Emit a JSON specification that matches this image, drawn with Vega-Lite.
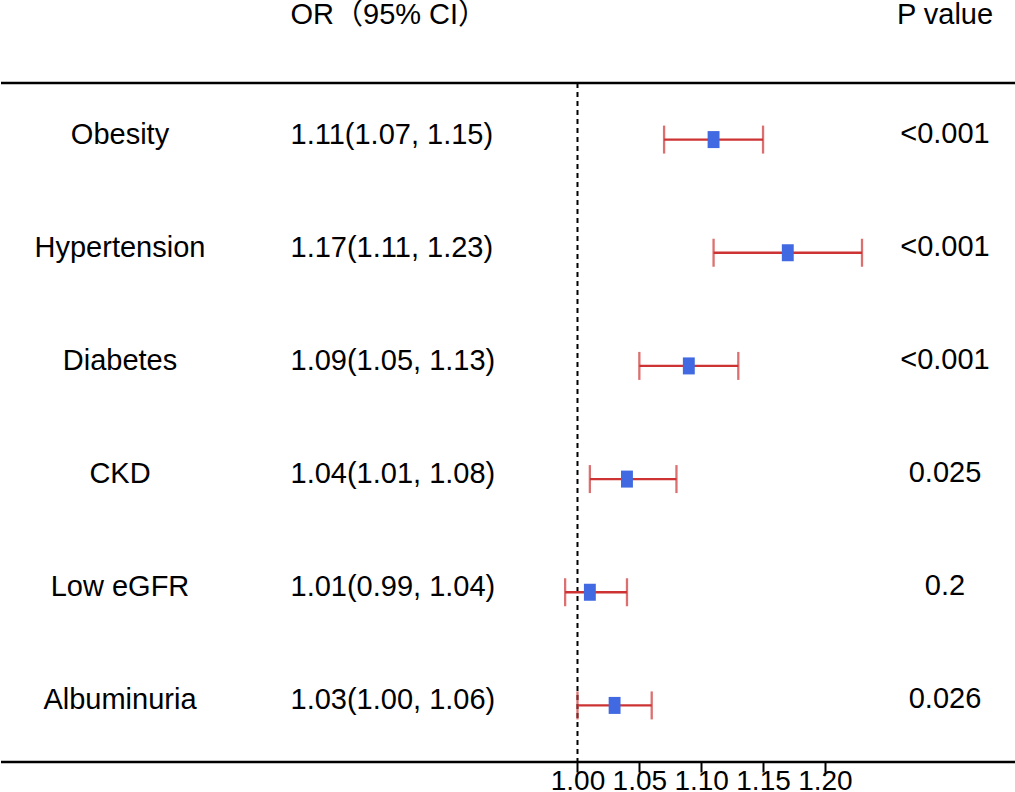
{
  "$schema": "https://vega.github.io/schema/vega-lite/v6.json",
  "padding": {"left": -1, "top": 0, "right": 0, "bottom": 0},
  "background": "white",
  "spacing": 33,
  "config": {
    "view": {"stroke": null},
    "font": "Liberation Sans",
    "text": {"font": "Liberation Sans, Noto Sans CJK SC", "fontSize": 29, "color": "black"}
  },
  "datasets": {
    "rows": [
      {"variable": "Obesity", "or": 1.11, "lo": 1.07, "hi": 1.15, "ci_text": "1.11(1.07, 1.15)", "p_text": "<0.001"},
      {"variable": "Hypertension", "or": 1.17, "lo": 1.11, "hi": 1.23, "ci_text": "1.17(1.11, 1.23)", "p_text": "<0.001"},
      {"variable": "Diabetes", "or": 1.09, "lo": 1.05, "hi": 1.13, "ci_text": "1.09(1.05, 1.13)", "p_text": "<0.001"},
      {"variable": "CKD", "or": 1.04, "lo": 1.01, "hi": 1.08, "ci_text": "1.04(1.01, 1.08)", "p_text": "0.025"},
      {"variable": "Low eGFR", "or": 1.01, "lo": 0.99, "hi": 1.04, "ci_text": "1.01(0.99, 1.04)", "p_text": "0.2"},
      {"variable": "Albuminuria", "or": 1.03, "lo": 1.0, "hi": 1.06, "ci_text": "1.03(1.00, 1.06)", "p_text": "0.026"}
    ],
    "headers": [
      {"column": "or", "label": "OR（95% CI）"},
      {"column": "p", "label": "P value"}
    ]
  },
  "vconcat": [
    {
      "width": 1015,
      "height": 48,
      "data": {"name": "headers"},
      "layer": [
        {
          "transform": [{"filter": "datum.column == 'or'"}],
          "mark": {"type": "text", "align": "left", "baseline": "alphabetic"},
          "encoding": {
            "x": {"datum": 0.768, "type": "quantitative", "scale": {"domain": [0.53396, 1.35449], "nice": false, "zero": false}, "axis": null},
            "text": {"field": "label"}
          }
        },
        {
          "transform": [{"filter": "datum.column == 'p'"}],
          "mark": {"type": "text", "align": "center", "baseline": "alphabetic"},
          "encoding": {
            "x": {"datum": 1.29709, "type": "quantitative", "axis": null},
            "text": {"field": "label"}
          }
        }
      ]
    },
    {
      "width": 1015,
      "height": 679,
      "data": {"name": "rows"},
      "resolve": {"scale": {"x": "independent"}, "axis": {"x": "independent"}},
      "layer": [
        {
          "transform": [{"filter": "datum.variable == 'Obesity'"}],
          "mark": {"type": "rule", "color": "black", "strokeWidth": 2.3},
          "encoding": {
            "y": {"field": "variable", "type": "nominal", "bandPosition": 0,
                  "scale": {"type": "band", "domain": ["Obesity", "Hypertension", "Diabetes", "CKD", "Low eGFR", "Albuminuria"], "paddingInner": 0, "paddingOuter": 0},
                  "axis": null}
          }
        },
        {
          "transform": [{"filter": "datum.variable == 'Albuminuria'"}],
          "mark": {"type": "rule", "color": "black", "strokeWidth": 2.3},
          "encoding": {
            "y": {"field": "variable", "type": "nominal", "bandPosition": 1, "axis": null}
          }
        },
        {
          "transform": [{"filter": "datum.variable == 'Obesity'"}],
          "mark": {"type": "rule", "color": "black", "strokeWidth": 2, "strokeDash": [5, 4]},
          "encoding": {
            "x": {"datum": 1, "type": "quantitative", "scale": {"domain": [0.53396, 1.35449], "nice": false, "zero": false}, "axis": null}
          }
        },
        {
          "mark": {"type": "rule", "color": "#CD3333", "strokeWidth": 2.3},
          "encoding": {
            "x": {"field": "lo", "type": "quantitative", "scale": {"domain": [0.53396, 1.35449], "nice": false, "zero": false}, "axis": null},
            "x2": {"field": "hi"},
            "y": {"field": "variable", "type": "nominal", "axis": null}
          }
        },
        {
          "mark": {"type": "tick", "color": "#CD3333", "size": 28, "thickness": 2.3, "orient": "vertical"},
          "encoding": {
            "x": {"field": "lo", "type": "quantitative", "scale": {"domain": [0.53396, 1.35449], "nice": false, "zero": false}, "axis": null},
            "y": {"field": "variable", "type": "nominal", "axis": null}
          }
        },
        {
          "mark": {"type": "tick", "color": "#CD3333", "size": 28, "thickness": 2.3, "orient": "vertical"},
          "encoding": {
            "x": {"field": "hi", "type": "quantitative", "scale": {"domain": [0.53396, 1.35449], "nice": false, "zero": false}, "axis": null},
            "y": {"field": "variable", "type": "nominal", "axis": null}
          }
        },
        {
          "mark": {"type": "point", "shape": "M-0.7,-1H0.7V1H-0.7Z", "size": 289, "filled": true, "color": "#4169E1", "opacity": 1, "strokeWidth": 0},
          "encoding": {
            "x": {"field": "or", "type": "quantitative",
                  "scale": {"domain": [0.53396, 1.35449], "nice": false, "zero": false},
                  "axis": {"values": [1, 1.05, 1.1, 1.15, 1.2], "format": ".2f", "title": null, "orient": "bottom", "domain": false, "grid": false,
                           "tickSize": 10, "tickWidth": 2, "tickColor": "black", "labelFontSize": 28, "labelFont": "Liberation Sans", "labelColor": "black", "labelPadding": -5, "labelOverlap": false}},
            "y": {"field": "variable", "type": "nominal", "axis": null}
          }
        },
        {
          "mark": {"type": "text", "align": "center", "baseline": "alphabetic", "dy": 4},
          "encoding": {
            "x": {"datum": 0.63015, "type": "quantitative", "scale": {"domain": [0.53396, 1.35449], "nice": false, "zero": false}, "axis": null},
            "y": {"field": "variable", "type": "nominal", "axis": null},
            "text": {"field": "variable"}
          }
        },
        {
          "mark": {"type": "text", "align": "left", "baseline": "alphabetic", "dy": 4},
          "encoding": {
            "x": {"datum": 0.768, "type": "quantitative", "scale": {"domain": [0.53396, 1.35449], "nice": false, "zero": false}, "axis": null},
            "y": {"field": "variable", "type": "nominal", "axis": null},
            "text": {"field": "ci_text"}
          }
        },
        {
          "mark": {"type": "text", "align": "center", "baseline": "alphabetic", "dy": 3},
          "encoding": {
            "x": {"datum": 1.29709, "type": "quantitative", "scale": {"domain": [0.53396, 1.35449], "nice": false, "zero": false}, "axis": null},
            "y": {"field": "variable", "type": "nominal", "axis": null},
            "text": {"field": "p_text"}
          }
        }
      ]
    }
  ]
}
